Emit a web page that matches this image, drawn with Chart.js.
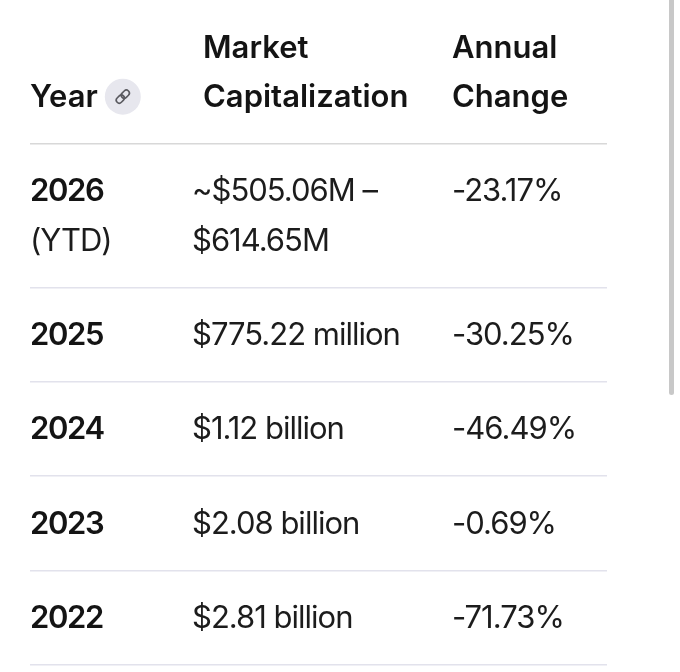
<!DOCTYPE html>
<html>
<head>
<meta charset="utf-8">
<script src="https://cdn.jsdelivr.net/npm/chart.js@4.4.1/dist/chart.umd.min.js"></script>
<style>
  html, body { margin: 0; padding: 0; background: #fff; overflow: hidden; }
  #wrap { position: relative; width: 680px; height: 672px; }
  #scrollbar { position: absolute; left: 669px; top: -6px; width: 5px; height: 401px; background: #c8c8c8; border-radius: 3px; }
</style>
</head>
<body>
<div id="wrap">
  <canvas id="tabla" width="680" height="672"></canvas>
  <div id="scrollbar"></div>
</div>
<script>
// Datos de la tabla
const headers = ["Year", "Market\nCapitalization", "Annual\nChange"];
const years = ["2026", "2025", "2024", "2023", "2022"];
const yearNotes = ["(YTD)", "", "", "", ""];
const marketCaps = ["~$505.06M –\n$614.65M", "$775.22 million", "$1.12 billion", "$2.08 billion", "$2.81 billion"];
const annualChanges = ["-23.17%", "-30.25%", "-46.49%", "-0.69%", "-71.73%"];

// Medidas de la tabla (px)
const LINE = 49.5;          // alto de cada línea de texto
const PAD = 44.75;          // relleno vertical de cada fila
const colStarts = [0, 162, 422];
const headerShift = [0, 11, 0];
const FONT = "Inter, Lato, sans-serif";
const FONT_SIZE = 31;

// Celdas: fila 0 = encabezado
const bodyRows = years.map((y, i) => [
  yearNotes[i] ? y + "\n" + yearNotes[i] : y,
  marketCaps[i],
  annualChanges[i]
]);
const allRows = [headers].concat(bodyRows);
const lineCounts = allRows.map(r => Math.max(...r.map(c => c.split("\n").length)));

// Bordes de filas (valores del eje y)
const rowTops = [0];
lineCounts.forEach(n => rowTops.push(rowTops[rowTops.length - 1] + PAD + n * LINE));

// Plugin para escribir el texto de cada celda
const tablaTexto = {
  id: "tablaTexto",
  afterDatasetsDraw(chart) {
    const ctx = chart.ctx;
    const ys = chart.scales.y;
    ctx.save();
    ctx.textAlign = "left";
    ctx.textBaseline = "alphabetic";

    chart.data.datasets.forEach((ds, j) => {
      const meta = chart.getDatasetMeta(j);
      meta.data.forEach((pt, i) => {
        const lines = allRows[i][j].split("\n");
        const top = rowTops[i], bottom = rowTops[i + 1];
        lines.forEach((txt, k) => {
          const header = i === 0;
          const bold = header || (j === 0 && k === 0);
          ctx.font = (bold ? "600 " : "400 ") + FONT_SIZE + "px " + FONT;
          ctx.letterSpacing = header ? "0px" : (bold ? "-1.4px" : "-1px");
          ctx.fillStyle = bold ? "#141414" : "#1c1c1c";
          const capH = ctx.measureText("H").actualBoundingBoxAscent;
          let center;
          if (header) {
            center = bottom - PAD / 2 - LINE * (lines.length - k - 0.5);
          } else {
            center = top + PAD / 2 + LINE * (k + 0.5);
          }
          const yPix = ys.getPixelForValue(center) + capH / 2 - 1;
          ctx.fillText(txt, pt.x, yPix);

          // Icono de enlace junto a "Year"
          if (header && j === 0) {
            const w = ctx.measureText(txt).width;
            const cx = pt.x + w + 25, cy = ys.getPixelForValue(center);
            ctx.beginPath();
            ctx.arc(cx, cy, 18, 0, Math.PI * 2);
            ctx.fillStyle = "#e7e7ee";
            ctx.fill();
            ctx.save();
            ctx.translate(cx, cy);
            ctx.rotate(-Math.PI / 4);
            ctx.strokeStyle = "#5a5a60";
            ctx.lineWidth = 1.6;
            ctx.beginPath();
            ctx.roundRect(-8, -3, 9, 6, 3);
            ctx.stroke();
            ctx.beginPath();
            ctx.roundRect(-1, -3, 9, 6, 3);
            ctx.stroke();
            ctx.restore();
          }
        });
      });
    });
    ctx.restore();
  }
};

// Un dataset por columna; cada punto es el ancla de una celda
const datasets = headers.map((h, j) => ({
  label: h,
  data: allRows.map((r, i) => ({ x: colStarts[j] + (i === 0 ? headerShift[j] : 0), y: rowTops[i] })),
  pointRadius: 0,
  pointHoverRadius: 0,
  showLine: false
}));

new Chart(document.getElementById("tabla").getContext("2d"), {
  type: "scatter",
  data: { datasets: datasets },
  options: {
    responsive: false,
    animation: false,
    events: [],
    layout: { padding: { left: 30, right: 73, top: 0, bottom: 0 } },
    plugins: { legend: { display: false }, tooltip: { enabled: false } },
    scales: {
      x: { type: "linear", display: false, min: 0, max: 577 },
      y: {
        type: "linear",
        reverse: true,
        min: 0,
        max: 672,
        afterBuildTicks: scale => { scale.ticks = rowTops.map(v => ({ value: v })); },
        ticks: { display: false },
        border: { display: false },
        grid: {
          drawTicks: false,
          lineWidth: 1.5,
          color: c => c.tick.value === 0 ? "rgba(0,0,0,0)" : (c.index === 1 ? "#d8d8d8" : "#e2e2ec")
        }
      }
    }
  },
  plugins: [tablaTexto]
});
</script>
</body>
</html>
